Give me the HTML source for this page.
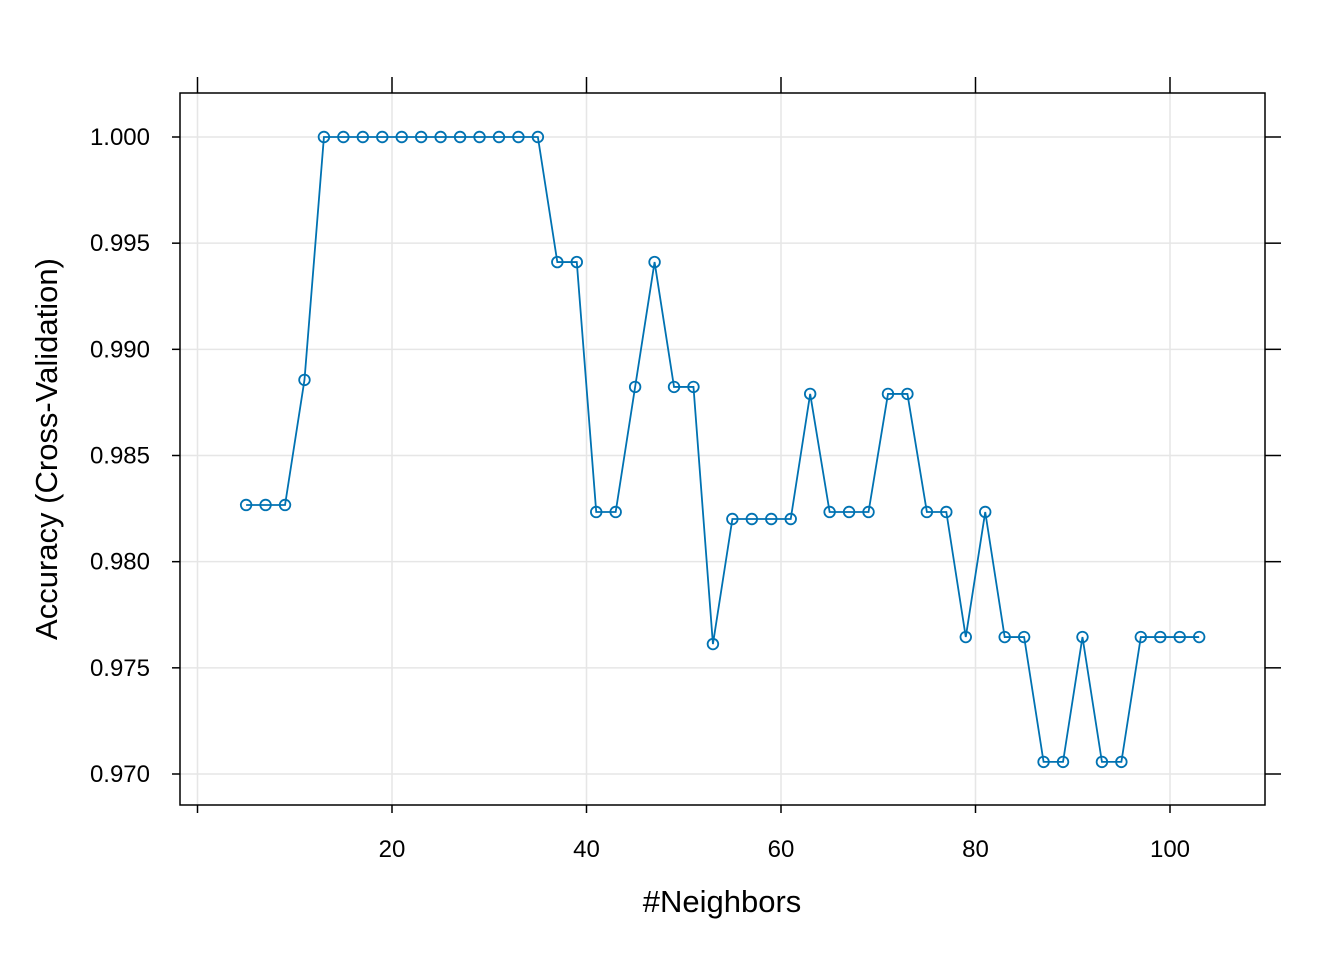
<!DOCTYPE html>
<html><head><meta charset="utf-8"><style>
html,body{margin:0;padding:0;background:#fff;}
svg text{font-family:"Liberation Sans",Arial,sans-serif;fill:#000;}
</style></head><body>
<svg id="chart" width="1344" height="960" viewBox="0 0 1344 960" xmlns="http://www.w3.org/2000/svg">
<g id="grid"></g>
<rect x="180" y="93" width="1085" height="712" fill="none" stroke="#000" stroke-width="1.5"/>
<g id="axes"></g>
<g id="series"></g>
<text x="722" y="912" font-size="31" text-anchor="middle">#Neighbors</text>
<text transform="translate(57,449) rotate(-90)" font-size="31" text-anchor="middle">Accuracy (Cross-Validation)</text>
</svg>
<script>
const neighbors=[5,7,9,11,13,15,17,19,21,23,25,27,29,31,33,35,37,39,41,43,45,47,49,51,53,55,57,59,61,63,65,67,69,71,73,75,77,79,81,83,85,87,89,91,93,95,97,99,101,103];
const accuracy=[0.98267,0.98267,0.98267,0.98856,1,1,1,1,1,1,1,1,1,1,1,1,0.99411,0.99411,0.98234,0.98234,0.98823,0.99411,0.98823,0.98823,0.97612,0.98201,0.98201,0.98201,0.98201,0.9879,0.98234,0.98234,0.98234,0.9879,0.9879,0.98234,0.98234,0.97645,0.98234,0.97645,0.97645,0.97057,0.97057,0.97645,0.97057,0.97057,0.97645,0.97645,0.97645,0.97645];
const xTicks=[0,20,40,60,80,100];
const xTickLabels=["","20","40","60","80","100"];
const yTicks=[0.970,0.975,0.980,0.985,0.990,0.995,1.000];
const yTickLabels=["0.970","0.975","0.980","0.985","0.990","0.995","1.000"];
const NS="http://www.w3.org/2000/svg";
function xs(v){return 197.5+v*(1170-197.5)/100;}
function ys(v){return 774-(v-0.97)*(774-137)/0.03;}
function mk(tag,attrs,parent){const e=document.createElementNS(NS,tag);for(const k in attrs)e.setAttribute(k,attrs[k]);parent.appendChild(e);return e;}
const grid=document.getElementById('grid'),axes=document.getElementById('axes'),series=document.getElementById('series');
xTicks.forEach((t,i)=>{const x=xs(t);
 let g=mk('line',{x1:x,x2:x,y1:93,y2:805,stroke:'#e6e6e6','stroke-width':1.5},grid);
 
 
 let a=mk('line',{x1:x,x2:x,y1:805,y2:813,stroke:'#000','stroke-width':1.5},axes);
 
 
 let b=mk('line',{x1:x,x2:x,y1:77,y2:93,stroke:'#000','stroke-width':1.5},axes);
 
 
 let tx=mk('text',{x:x,y:857,'font-size':24,'text-anchor':'middle'},axes);tx.textContent=xTickLabels[i];
 
 
});
yTicks.forEach((t,i)=>{const y=ys(t);
 let g=mk('line',{x1:180,x2:1265,y1:y,y2:y,stroke:'#e6e6e6','stroke-width':1.5},grid);
 
 
 let a=mk('line',{x1:172,x2:180,y1:y,y2:y,stroke:'#000','stroke-width':1.5},axes);
 
 
 let b=mk('line',{x1:1265,x2:1281,y1:y,y2:y,stroke:'#000','stroke-width':1.5},axes);
 
 
 let tx=mk('text',{x:150,y:y+8,'font-size':24,'text-anchor':'end'},axes);tx.textContent=yTickLabels[i];
 
 
});
const pts=neighbors.map((k,i)=>xs(k)+','+ys(accuracy[i])).join(' ');
let pl=mk('polyline',{points:pts,fill:'none',stroke:'#0072B2','stroke-width':1.8},series);


neighbors.forEach((k,i)=>{
 let c=mk('circle',{cx:xs(k),cy:ys(accuracy[i]),r:5.3,fill:'none',stroke:'#0072B2','stroke-width':1.8},series);
 
 
});
</script>
</body></html>
